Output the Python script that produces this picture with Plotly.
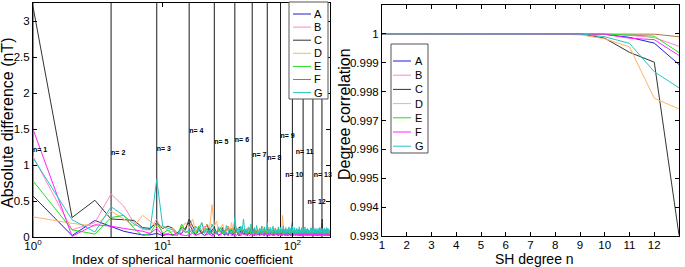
import math
import plotly.graph_objects as go

W, H = 685, 267

names = ["A", "B", "C", "D", "E", "F", "G"]
colors = ["#1f1fd6", "#ff88c4", "#333333", "#ffb266", "#22dd22", "#ff22ff", "#22c4c4"]

# ---- Left panel: absolute difference per SH coefficient index (1..195) ----
diff_A = [0.57, 0.02, 0.23, 0.15, 0.08, 0.05, 0.03, 0.03, 0.05, 0.02, 0.04, 0.03, 0.06, 0.05, 0.12,
          0.20, 0.08, 0.03, 0.10, 0.05, 0.02, 0.06, 0.12, 0.04, 0.03, 0.08, 0.02, 0.05, 0.10, 0.03, 0.06, 0.02, 0.09, 0.04, 0.03,
          0.05, 0.12, 0.03, 0.02, 0.07, 0.04, 0.10, 0.03, 0.05, 0.02, 0.08, 0.04, 0.03, 0.06, 0.11, 0.02, 0.04, 0.07, 0.03, 0.05,
          0.02, 0.09, 0.04, 0.03, 0.06, 0.02, 0.08, 0.05, 0.03, 0.10, 0.02, 0.04, 0.06, 0.03, 0.07, 0.02, 0.05, 0.03, 0.08, 0.04,
          0.03, 0.06, 0.02, 0.05, 0.09, 0.03, 0.04, 0.02, 0.07, 0.03, 0.05, 0.10, 0.02, 0.04, 0.06, 0.03, 0.02, 0.05, 0.08, 0.03,
          0.04, 0.02, 0.06, 0.03, 0.05, 0.02, 0.07, 0.04, 0.03, 0.06, 0.02, 0.05, 0.03, 0.09, 0.02, 0.04, 0.03, 0.06, 0.02, 0.05,
          0.03, 0.07, 0.02, 0.04, 0.05, 0.03, 0.02, 0.06, 0.04, 0.03, 0.08, 0.02, 0.05, 0.03, 0.04, 0.02, 0.06, 0.03, 0.05, 0.02,
          0.04, 0.03, 0.06, 0.02, 0.05, 0.03, 0.07, 0.02, 0.04, 0.03, 0.05, 0.02, 0.06, 0.03, 0.04, 0.08, 0.02, 0.05, 0.03, 0.04,
          0.02, 0.05, 0.03, 0.06, 0.02, 0.04, 0.03, 0.05, 0.02, 0.07, 0.03, 0.04, 0.02, 0.05, 0.03, 0.06, 0.02, 0.04, 0.03, 0.05,
          0.03, 0.02, 0.05, 0.04, 0.03, 0.06, 0.02, 0.04, 0.03, 0.05, 0.02, 0.04, 0.06, 0.03, 0.02, 0.05, 0.03, 0.04, 0.02, 0.03]
diff_B = [1.12, 0.10, 0.20, 0.60, 0.43, 0.20, 0.10, 0.10, 0.25, 0.05, 0.05, 0.08, 0.03, 0.10, 0.06,
          0.08, 0.12, 0.05, 0.03, 0.09, 0.15, 0.04, 0.06, 0.10, 0.03, 0.07, 0.12, 0.04, 0.05, 0.09, 0.03, 0.06, 0.11, 0.04, 0.07,
          0.03, 0.08, 0.05, 0.10, 0.02, 0.06, 0.04, 0.09, 0.03, 0.07, 0.05, 0.12, 0.03, 0.04, 0.08, 0.05, 0.02, 0.06, 0.10, 0.04,
          0.06, 0.03, 0.08, 0.04, 0.02, 0.07, 0.05, 0.03, 0.09, 0.04, 0.06, 0.02, 0.05, 0.08, 0.03, 0.04, 0.07, 0.02, 0.05, 0.06,
          0.04, 0.07, 0.03, 0.05, 0.02, 0.08, 0.04, 0.06, 0.03, 0.05, 0.09, 0.02, 0.04, 0.06, 0.03, 0.07, 0.05, 0.02, 0.04, 0.06,
          0.05, 0.03, 0.07, 0.02, 0.06, 0.04, 0.03, 0.08, 0.05, 0.02, 0.04, 0.06, 0.03, 0.05, 0.07, 0.02, 0.04, 0.03, 0.06, 0.04,
          0.02, 0.05, 0.04, 0.07, 0.03, 0.06, 0.02, 0.04, 0.05, 0.03, 0.06, 0.04, 0.02, 0.07, 0.03, 0.05, 0.04, 0.02, 0.06, 0.03,
          0.05, 0.02, 0.04, 0.06, 0.03, 0.05, 0.04, 0.02, 0.07, 0.03, 0.04, 0.05, 0.02, 0.06, 0.03, 0.04, 0.05, 0.03, 0.02, 0.06,
          0.04, 0.03, 0.05, 0.02, 0.06, 0.03, 0.04, 0.05, 0.02, 0.04, 0.06, 0.03, 0.05, 0.02, 0.04, 0.03, 0.06, 0.02, 0.05, 0.04,
          0.03, 0.05, 0.02, 0.04, 0.06, 0.03, 0.05, 0.02, 0.04, 0.03, 0.05, 0.02, 0.06, 0.04, 0.03, 0.05, 0.02, 0.04, 0.03, 0.04]
diff_C = [3.20, 0.27, 0.51, 0.25, 0.24, 0.23, 0.13, 0.12, 0.20, 0.12, 0.15, 0.12, 0.05, 0.14, 0.10,
          0.25, 0.15, 0.08, 0.12, 0.05, 0.10, 0.18, 0.06, 0.09, 0.14, 0.04, 0.11, 0.07, 0.13, 0.05, 0.09, 0.15, 0.06, 0.10, 0.04,
          0.12, 0.08, 0.05, 0.14, 0.07, 0.10, 0.04, 0.09, 0.06, 0.12, 0.05, 0.08, 0.11, 0.04, 0.07, 0.10, 0.05, 0.09, 0.06, 0.08,
          0.04, 0.10, 0.06, 0.08, 0.05, 0.12, 0.04, 0.07, 0.09, 0.05, 0.06, 0.10, 0.04, 0.08, 0.06, 0.05, 0.09, 0.04, 0.07, 0.06,
          0.08, 0.05, 0.06, 0.10, 0.04, 0.07, 0.05, 0.09, 0.06, 0.04, 0.08, 0.05, 0.07, 0.04, 0.06, 0.09, 0.05, 0.07, 0.04, 0.06,
          0.05, 0.08, 0.06, 0.12, 0.20, 0.07, 0.05, 0.09, 0.04, 0.06, 0.08, 0.05, 0.07, 0.04, 0.06, 0.05, 0.08, 0.04, 0.06, 0.07,
          0.04, 0.06, 0.05, 0.08, 0.04, 0.07, 0.06, 0.05, 0.09, 0.04, 0.06, 0.05, 0.07, 0.04, 0.06, 0.08, 0.05, 0.04, 0.06, 0.05,
          0.07, 0.04, 0.06, 0.05, 0.08, 0.04, 0.06, 0.05, 0.07, 0.04, 0.05, 0.06, 0.04, 0.08, 0.05, 0.06, 0.04, 0.07, 0.05, 0.04,
          0.06, 0.05, 0.07, 0.04, 0.06, 0.05, 0.08, 0.04, 0.06, 0.05, 0.07, 0.10, 0.15, 0.20, 0.25, 0.12, 0.06, 0.05, 0.04, 0.06,
          0.05, 0.07, 0.04, 0.06, 0.05, 0.04, 0.06, 0.05, 0.07, 0.04, 0.05, 0.06, 0.04, 0.05, 0.03, 0.05, 0.04, 0.06, 0.04, 0.05]
diff_D = [0.28, 0.19, 0.15, 0.36, 0.25, 0.15, 0.30, 0.22, 0.15, 0.15, 0.08, 0.12, 0.04, 0.12, 0.20,
          0.12, 0.25, 0.08, 0.15, 0.20, 0.10, 0.18, 0.12, 0.45, 0.15, 0.22, 0.08, 0.12, 0.18, 0.06, 0.10, 0.15, 0.08, 0.20, 0.05,
          0.10, 0.14, 0.06, 0.12, 0.09, 0.15, 0.05, 0.11, 0.08, 0.13, 0.06, 0.10, 0.16, 0.05, 0.09, 0.12, 0.07, 0.10, 0.05, 0.08,
          0.12, 0.06, 0.09, 0.15, 0.05, 0.10, 0.08, 0.12, 0.06, 0.09, 0.14, 0.05, 0.08, 0.11, 0.06, 0.10, 0.07, 0.12, 0.05, 0.09,
          0.07, 0.11, 0.06, 0.10, 0.08, 0.13, 0.05, 0.09, 0.30, 0.12, 0.06, 0.10, 0.08, 0.05, 0.11, 0.07, 0.09, 0.06, 0.12, 0.05,
          0.08, 0.10, 0.06, 0.09, 0.07, 0.12, 0.05, 0.08, 0.10, 0.06, 0.09, 0.07, 0.11, 0.05, 0.08, 0.10, 0.06, 0.09, 0.07, 0.05,
          0.10, 0.06, 0.08, 0.12, 0.05, 0.09, 0.07, 0.10, 0.06, 0.08, 0.11, 0.05, 0.09, 0.07, 0.10, 0.06, 0.08, 0.05, 0.09, 0.07,
          0.06, 0.10, 0.05, 0.08, 0.12, 0.06, 0.09, 0.07, 0.05, 0.10, 0.08, 0.06, 0.09, 0.05, 0.11, 0.07, 0.06, 0.08, 0.10, 0.05,
          0.09, 0.06, 0.08, 0.05, 0.10, 0.07, 0.06, 0.09, 0.05, 0.08, 0.11, 0.06, 0.07, 0.09, 0.05, 0.08, 0.06, 0.10, 0.05, 0.07,
          0.08, 0.06, 0.09, 0.05, 0.07, 0.10, 0.06, 0.08, 0.05, 0.09, 0.07, 0.06, 0.10, 0.05, 0.08, 0.06, 0.07, 0.05, 0.08, 0.06]
diff_E = [0.78, 0.10, 0.04, 0.27, 0.30, 0.12, 0.02, 0.05, 0.20, 0.05, 0.10, 0.03, 0.02, 0.18, 0.08,
          0.06, 0.10, 0.04, 0.15, 0.08, 0.05, 0.12, 0.03, 0.07, 0.10, 0.04, 0.08, 0.13, 0.05, 0.09, 0.03, 0.06, 0.11, 0.04, 0.07,
          0.05, 0.09, 0.03, 0.07, 0.12, 0.04, 0.06, 0.10, 0.03, 0.08, 0.05, 0.11, 0.04, 0.06, 0.09, 0.03, 0.07, 0.05, 0.10, 0.04,
          0.07, 0.03, 0.09, 0.05, 0.06, 0.11, 0.04, 0.08, 0.03, 0.06, 0.10, 0.04, 0.07, 0.05, 0.03, 0.09, 0.06, 0.04, 0.08, 0.05,
          0.04, 0.08, 0.05, 0.03, 0.07, 0.09, 0.04, 0.06, 0.05, 0.10, 0.03, 0.07, 0.05, 0.04, 0.08, 0.06, 0.03, 0.07, 0.05, 0.09,
          0.05, 0.03, 0.07, 0.06, 0.04, 0.09, 0.05, 0.03, 0.08, 0.06, 0.04, 0.07, 0.05, 0.03, 0.06, 0.08, 0.04, 0.05, 0.07, 0.03,
          0.06, 0.04, 0.08, 0.05, 0.03, 0.07, 0.06, 0.04, 0.05, 0.09, 0.03, 0.06, 0.05, 0.07, 0.04, 0.03, 0.06, 0.08, 0.04, 0.05,
          0.03, 0.07, 0.05, 0.04, 0.06, 0.03, 0.08, 0.05, 0.04, 0.06, 0.07, 0.03, 0.05, 0.04, 0.08, 0.06, 0.03, 0.05, 0.07, 0.04,
          0.05, 0.04, 0.06, 0.03, 0.07, 0.05, 0.04, 0.08, 0.03, 0.06, 0.05, 0.04, 0.07, 0.03, 0.05, 0.06, 0.04, 0.03, 0.07, 0.05,
          0.04, 0.06, 0.03, 0.05, 0.07, 0.04, 0.05, 0.03, 0.06, 0.04, 0.07, 0.05, 0.03, 0.06, 0.04, 0.05, 0.03, 0.06, 0.04, 0.05]
diff_F = [1.50, 0.01, 0.17, 0.15, 0.12, 0.10, 0.08, 0.05, 0.12, 0.03, 0.04, 0.02, 0.05, 0.03, 0.02,
          0.03, 0.05, 0.02, 0.04, 0.06, 0.02, 0.03, 0.05, 0.01, 0.04, 0.07, 0.02, 0.03, 0.05, 0.02, 0.04, 0.03, 0.06, 0.02, 0.03,
          0.04, 0.02, 0.05, 0.03, 0.02, 0.06, 0.03, 0.04, 0.02, 0.05, 0.03, 0.02, 0.04, 0.06, 0.02, 0.03, 0.05, 0.02, 0.04, 0.03,
          0.02, 0.05, 0.03, 0.04, 0.02, 0.06, 0.03, 0.02, 0.05, 0.03, 0.04, 0.02, 0.06, 0.03, 0.02, 0.04, 0.05, 0.02, 0.03, 0.04,
          0.03, 0.02, 0.05, 0.03, 0.04, 0.02, 0.06, 0.03, 0.02, 0.04, 0.05, 0.02, 0.03, 0.06, 0.02, 0.04, 0.03, 0.05, 0.02, 0.03,
          0.04, 0.03, 0.02, 0.05, 0.03, 0.04, 0.02, 0.06, 0.03, 0.02, 0.05, 0.03, 0.04, 0.02, 0.03, 0.05, 0.02, 0.04, 0.03, 0.02,
          0.05, 0.02, 0.03, 0.04, 0.02, 0.05, 0.03, 0.02, 0.04, 0.06, 0.02, 0.03, 0.05, 0.02, 0.04, 0.03, 0.02, 0.05, 0.03, 0.04,
          0.02, 0.04, 0.03, 0.05, 0.02, 0.03, 0.04, 0.02, 0.06, 0.03, 0.02, 0.04, 0.03, 0.05, 0.02, 0.04, 0.03, 0.02, 0.05, 0.03,
          0.03, 0.05, 0.02, 0.04, 0.03, 0.02, 0.05, 0.03, 0.04, 0.02, 0.06, 0.03, 0.02, 0.04, 0.03, 0.05, 0.02, 0.03, 0.04, 0.02,
          0.04, 0.02, 0.03, 0.05, 0.02, 0.04, 0.03, 0.02, 0.05, 0.03, 0.04, 0.02, 0.03, 0.05, 0.02, 0.03, 0.04, 0.02, 0.03, 0.04]
diff_G = [1.10, 0.24, 0.07, 0.42, 0.30, 0.18, 0.12, 0.10, 0.80, 0.15, 0.12, 0.10, 0.04, 0.12, 0.06,
          0.10, 0.05, 0.15, 0.08, 0.20, 0.06, 0.12, 0.04, 0.18, 0.09, 0.05, 0.14, 0.07, 0.11, 0.04, 0.16, 0.08, 0.05, 0.12, 0.06,
          0.27, 0.08, 0.12, 0.05, 0.15, 0.09, 0.25, 0.06, 0.11, 0.04, 0.14, 0.08, 0.18, 0.05, 0.10, 0.13, 0.06, 0.16, 0.08, 0.05,
          0.12, 0.07, 0.15, 0.05, 0.10, 0.14, 0.06, 0.09, 0.20, 0.05, 0.11, 0.08, 0.13, 0.04, 0.10, 0.15, 0.06, 0.09, 0.12, 0.05,
          0.10, 0.07, 0.14, 0.05, 0.09, 0.12, 0.06, 0.11, 0.08, 0.15, 0.04, 0.10, 0.07, 0.13, 0.05, 0.09, 0.11, 0.06, 0.14, 0.05,
          0.08, 0.12, 0.06, 0.10, 0.15, 0.05, 0.09, 0.07, 0.13, 0.04, 0.10, 0.08, 0.12, 0.05, 0.09, 0.11, 0.06, 0.14, 0.07, 0.05,
          0.10, 0.08, 0.13, 0.05, 0.09, 0.12, 0.06, 0.10, 0.07, 0.14, 0.05, 0.09, 0.11, 0.06, 0.08, 0.12, 0.05, 0.10, 0.07, 0.09,
          0.05, 0.11, 0.08, 0.13, 0.06, 0.09, 0.12, 0.05, 0.10, 0.07, 0.14, 0.06, 0.09, 0.11, 0.05, 0.08, 0.12, 0.06, 0.10, 0.07,
          0.09, 0.05, 0.12, 0.08, 0.10, 0.06, 0.13, 0.07, 0.09, 0.11, 0.05, 0.10, 0.08, 0.12, 0.06, 0.09, 0.11, 0.05, 0.10, 0.08,
          0.06, 0.12, 0.08, 0.10, 0.05, 0.11, 0.09, 0.07, 0.13, 0.06, 0.10, 0.08, 0.12, 0.05, 0.09, 0.11, 0.07, 0.10, 0.06, 0.08]

# degree boundaries (index n^2), label anchor positions (index) and label heights
label_degrees = list(range(1, 14))
label_x = [1, 4, 9, 16, 25, 36, 49, 64, 81, 88, 106, 131, 146]
label_y = [1.20, 1.17, 1.22, 1.47, 1.32, 1.35, 1.14, 1.10, 1.40, 0.86, 1.18, 0.48, 0.86]

# ---- Right panel: degree correlation ----
sh_degree = list(range(1, 14))
corr_A = [1, 1, 1, 1, 1, 1, 1, 1, 1, 0.99998, 0.99988, 0.99968, 0.99894]
corr_B = [1, 1, 1, 1, 1, 1, 1, 1, 1, 0.99999, 0.99995, 0.99987, 0.99957]
corr_C = [1, 1, 1, 1, 1, 1, 1, 1, 1, 0.99985, 0.99936, 0.99902, 0.99303]
corr_D = [1, 1, 1, 1, 1, 1, 1, 0.99999, 0.99997, 0.99983, 0.99955, 0.99777, 0.99740]
corr_E = [1, 1, 1, 1, 1, 1, 1, 1, 1, 0.99999, 0.99996, 0.99992, 0.99935]
corr_F = [1, 1, 1, 1, 1, 1, 1, 1, 1, 0.99999, 0.99985, 0.99980, 0.99925]
corr_G = [1, 1, 1, 1, 1, 1, 1, 1, 1, 0.99990, 0.99967, 0.99869, 0.99813]
corr_ref = [1, 1, 1, 1, 1, 1, 1, 1, 1, 1, 1, 0.99999, 0.99990]

diff_series = [diff_A, diff_B, diff_C, diff_D, diff_E, diff_F, diff_G]
corr_series = [corr_A, corr_B, corr_C, corr_D, corr_E, corr_F, corr_G]

FONT = "Liberation Sans, Arial, sans-serif"
fig = go.Figure()

Y_TOP = 3.25
# vertical degree boundaries
vx, vy = [], []
for n in label_degrees:
    vx += [n * n, n * n, None]
    vy += [0, Y_TOP, None]
fig.add_trace(go.Scatter(x=vx, y=vy, mode="lines", line=dict(color="#1a1a1a", width=1),
                         xaxis="x", yaxis="y", showlegend=False, hoverinfo="skip"))

for name, col, vals in zip(names, colors, diff_series):
    fig.add_trace(go.Scatter(x=list(range(1, len(vals) + 1)), y=vals, mode="lines", name=name,
                             line=dict(color=col, width=1), xaxis="x", yaxis="y", showlegend=False))

fig.add_trace(go.Scatter(x=label_x, y=label_y, mode="text",
                         text=["<b>n= %d</b>" % n for n in label_degrees], textposition="middle right",
                         textfont=dict(family=FONT, size=7, color="black"), cliponaxis=False,
                         xaxis="x", yaxis="y", showlegend=False, hoverinfo="skip"))

fig.add_trace(go.Scatter(x=sh_degree, y=corr_ref, mode="lines", line=dict(color="#b5733a", width=1),
                         xaxis="x2", yaxis="y2", showlegend=False))
for name, col, vals in zip(names, colors, corr_series):
    fig.add_trace(go.Scatter(x=sh_degree, y=vals, mode="lines", name=name,
                             line=dict(color=col, width=1), xaxis="x2", yaxis="y2", showlegend=False))

# pixel -> paper helpers
def px(x):
    return x / W

def py(y):
    return 1 - y / H

axis_common = dict(showline=True, linecolor="black", linewidth=1, mirror="ticks", ticks="inside",
                   ticklen=4, tickcolor="black", showgrid=False, zeroline=False, automargin=False,
                   tickfont=dict(family=FONT, size=11.5, color="black"))

fig.update_layout(
    template="none",
    width=W, height=H, margin=dict(l=0, r=0, t=0, b=0, pad=0),
    paper_bgcolor="white", plot_bgcolor="white",
    font=dict(family=FONT, color="black"),
    xaxis=dict(type="log", domain=[px(33), px(330)], range=[0, math.log10(195)],
               tickvals=[1, 10, 100], ticktext=["10<sup>0</sup>", "10<sup>1</sup>", "10<sup>2</sup>"],
               ticklabelstandoff=-2, anchor="y", **axis_common),
    yaxis=dict(domain=[py(237), py(3)], range=[0, Y_TOP], tickvals=[0, 0.5, 1, 1.5, 2, 2.5, 3],
               ticktext=["0", "0.5", "1", "1.5", "2", "2.5", "3"],
               anchor="x", **axis_common),
    xaxis2=dict(domain=[px(382), px(679)], range=[1, 13], tickvals=sh_degree,
                ticktext=[str(v) for v in sh_degree],
                ticklabelstandoff=-2, anchor="y2", **axis_common),
    yaxis2=dict(domain=[py(236), py(5)], range=[0.993, 1.001],
                tickvals=[0.993, 0.994, 0.995, 0.996, 0.997, 0.998, 0.999, 1.0, 1.001],
                ticktext=["0.993", "0.994", "0.995", "0.996", "0.997", "0.998", "0.999", "1", "1.001"],
                anchor="x2", **axis_common),
)

shapes, annots = [], []

# axis titles
annots.append(dict(text="Index of spherical harmonic coefficient", xref="paper", yref="paper",
                   x=px(183), y=py(259), xanchor="center", yanchor="middle", showarrow=False,
                   font=dict(family=FONT, size=13, color="black")))
annots.append(dict(text="SH degree n", xref="paper", yref="paper",
                   x=px(534), y=py(259), xanchor="center", yanchor="middle", showarrow=False,
                   font=dict(family=FONT, size=14, color="black")))
annots.append(dict(text="Absolute difference (nT)", xref="paper", yref="paper", textangle=-90,
                   x=px(7), y=py(123), xanchor="center", yanchor="middle", showarrow=False,
                   font=dict(family=FONT, size=16, color="black")))
annots.append(dict(text="Degree correlation", xref="paper", yref="paper", textangle=-90,
                   x=px(345), y=py(114), xanchor="center", yanchor="middle", showarrow=False,
                   font=dict(family=FONT, size=16, color="black")))

# legends (drawn as boxed keys)
def add_legend(x0, y0, x1, y1, first_y, step, line_x0, line_x1, text_x):
    shapes.append(dict(type="rect", xref="paper", yref="paper", x0=px(x0), x1=px(x1), y0=py(y1), y1=py(y0),
                       line=dict(color="#555555", width=1), fillcolor="white", layer="above"))
    for i, (name, col) in enumerate(zip(names, colors)):
        yy = first_y + step * i
        shapes.append(dict(type="line", xref="paper", yref="paper", x0=px(line_x0), x1=px(line_x1),
                           y0=py(yy), y1=py(yy), line=dict(color=col, width=1), layer="above"))
        annots.append(dict(text=name, xref="paper", yref="paper", x=px(text_x), y=py(yy), xanchor="left",
                           yanchor="middle", showarrow=False, font=dict(family=FONT, size=11, color="black")))

add_legend(289, 2, 328, 99, 14, 13.1, 293, 311, 312)
add_legend(391, 44, 428, 153, 61, 14.2, 393, 411, 413)
fig.update_layout(shapes=shapes, annotations=annots)

fig.write_html("out.html", config={"displayModeBar": False},
               post_script="document.body.style.margin='0';document.body.style.padding='0';"
                           "document.body.style.overflow='hidden';")
